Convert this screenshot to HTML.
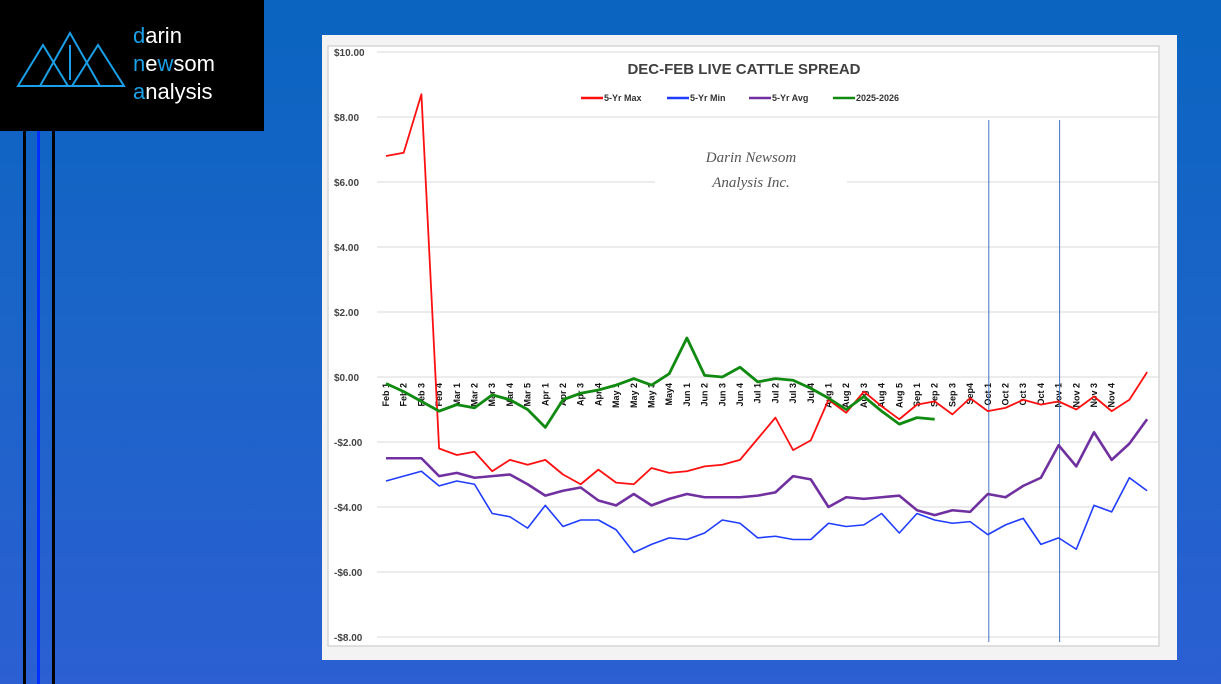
<!DOCTYPE html>
<html><head><meta charset="utf-8"><style>
body{margin:0;width:1221px;height:684px;overflow:hidden;background:linear-gradient(180deg,#0a64c0 0%,#1c64c8 50%,#2b5fd2 100%);position:relative;font-family:"Liberation Sans",sans-serif}
.abs{position:absolute}
</style></head><body>
<div class="abs" style="left:0;top:0;width:264px;height:131px;background:#000">
<svg width="264" height="131">
<g fill="none" stroke="#1aa0e8" stroke-width="2">
<polygon points="18,86 43,45 68,86"/><polygon points="40,86 70,33 100,86"/><polygon points="72,86 98,45 124,86"/>
<line x1="70" y1="45" x2="70" y2="80"/></g>
<text x="133" y="43" font-size="22" fill="#fff" font-family="Liberation Sans,sans-serif"><tspan fill="#1aa0e8">d</tspan>arin</text>
<text x="133" y="71" font-size="22" fill="#fff" font-family="Liberation Sans,sans-serif"><tspan fill="#1aa0e8">n</tspan>e<tspan fill="#1aa0e8">w</tspan>som</text>
<text x="133" y="99" font-size="22" fill="#fff" font-family="Liberation Sans,sans-serif"><tspan fill="#1aa0e8">a</tspan>nalysis</text>
</svg></div>
<div class="abs" style="left:23px;top:131px;width:3px;height:553px;background:#000"></div>
<div class="abs" style="left:37px;top:131px;width:3px;height:553px;background:#0030ff"></div>
<div class="abs" style="left:52px;top:131px;width:3px;height:553px;background:#000"></div>
<div class="abs" style="left:322px;top:35px;width:855px;height:625px;background:#f3f3f3"></div>
<svg class="abs" style="left:0;top:0" width="1221" height="684" id="chart">
<rect x="328" y="46" width="831" height="600" fill="#fff" stroke="#d6d6d6" stroke-width="1.5"/>
<g id="grid"></g>
<rect x="655" y="140" width="192" height="60" fill="#fff"/>
<text x="751" y="162" text-anchor="middle" font-family="Liberation Serif,serif" font-style="italic" font-size="15" fill="#555">Darin Newsom</text>
<text x="751" y="187" text-anchor="middle" font-family="Liberation Serif,serif" font-style="italic" font-size="15" fill="#555">Analysis Inc.</text>
<text x="744" y="74" text-anchor="middle" font-size="15" font-weight="bold" fill="#404040">DEC-FEB LIVE CATTLE SPREAD</text>
<g id="legend" font-size="9" font-weight="bold" fill="#333"></g>
<g id="xlabels" font-size="9" font-weight="bold" fill="#111"></g>
<g id="series"></g>
</svg>
<script>
const cats=["Feb 1","Feb 2","Feb 3","Feb 4","Mar 1","Mar 2","Mar 3","Mar 4","Mar 5","Apr 1","Apr 2","Apr 3","Apr 4","May 1","May 2","May 3","May4","Jun 1","Jun 2","Jun 3","Jun 4","Jul 1","Jul 2","Jul 3","Jul 4","Aug 1","Aug 2","Aug 3","Aug 4","Aug 5","Sep 1","Sep 2","Sep 3","Sep4","Oct 1","Oct 2","Oct 3","Oct 4","Nov 1","Nov 2","Nov 3","Nov 4","",""];
const yTicks=[10,8,6,4,2,0,-2,-4,-6,-8];
const maxVals=[6.8,6.9,8.7,-2.2,-2.4,-2.3,-2.9,-2.55,-2.7,-2.55,-3.0,-3.3,-2.85,-3.25,-3.3,-2.8,-2.95,-2.9,-2.75,-2.7,-2.55,-1.9,-1.25,-2.25,-1.95,-0.7,-1.1,-0.45,-0.9,-1.3,-0.85,-0.75,-1.15,-0.65,-1.05,-0.95,-0.7,-0.85,-0.75,-1.0,-0.6,-1.05,-0.7,0.15];
const minVals=[-3.2,-3.05,-2.9,-3.35,-3.2,-3.3,-4.2,-4.3,-4.65,-3.95,-4.6,-4.4,-4.4,-4.7,-5.4,-5.15,-4.95,-5.0,-4.8,-4.4,-4.5,-4.95,-4.9,-5.0,-5.0,-4.5,-4.6,-4.55,-4.2,-4.8,-4.2,-4.4,-4.5,-4.45,-4.85,-4.55,-4.35,-5.15,-4.95,-5.3,-3.95,-4.15,-3.1,-3.5];
const avgVals=[-2.5,-2.5,-2.5,-3.05,-2.95,-3.1,-3.05,-3.0,-3.3,-3.65,-3.5,-3.4,-3.8,-3.95,-3.6,-3.95,-3.75,-3.6,-3.7,-3.7,-3.7,-3.65,-3.55,-3.05,-3.15,-4.0,-3.7,-3.75,-3.7,-3.65,-4.1,-4.25,-4.1,-4.15,-3.6,-3.7,-3.35,-3.1,-2.1,-2.75,-1.7,-2.55,-2.05,-1.3];
const curVals=[-0.2,-0.45,-0.75,-1.05,-0.85,-0.95,-0.55,-0.7,-1.0,-1.55,-0.7,-0.5,-0.4,-0.25,-0.05,-0.25,0.1,1.2,0.05,0,0.3,-0.15,-0.05,-0.1,-0.35,-0.65,-1.0,-0.6,-1.05,-1.45,-1.25,-1.3];
const markerIdx=[34,38];
const NS="http://www.w3.org/2000/svg";
const X=i=>386+i*17.7;
const Y=v=>377-v*32.5;
const grid=document.getElementById('grid');
yTicks.forEach(v=>{
 const l=document.createElementNS(NS,'line');
 l.setAttribute('x1',377);l.setAttribute('x2',1159);l.setAttribute('y1',Y(v));l.setAttribute('y2',Y(v));
 l.setAttribute('stroke','#d9d9d9');l.setAttribute('stroke-width','1');
 
 
 grid.appendChild(l);
 const t=document.createElementNS(NS,'text');
 t.setAttribute('x',334);t.setAttribute('y',Y(v)+4);t.setAttribute('font-size','10');t.setAttribute('font-weight','bold');t.setAttribute('fill','#444');
 t.textContent=(v<0?'-$':'$')+Math.abs(v).toFixed(2);
 
 
 grid.appendChild(t);
});
const ser=document.getElementById('series');
markerIdx.forEach(i=>{
 const l=document.createElementNS(NS,'line');
 l.setAttribute('x1',X(i)+1);l.setAttribute('x2',X(i)+1);l.setAttribute('y1',120);l.setAttribute('y2',642);
 l.setAttribute('stroke','#4472c4');l.setAttribute('stroke-width','1');
 
 
 ser.appendChild(l);
});
const xl=document.getElementById('xlabels');
cats.forEach((c,i)=>{
 if(!c)return;
 const t=document.createElementNS(NS,'text');
 t.setAttribute('transform',`translate(${X(i)+3},383) rotate(-90)`);
 t.setAttribute('text-anchor','end');
 t.textContent=c;
 
 
 xl.appendChild(t);
});
function line(vals,color,w,name){
 const p=document.createElementNS(NS,'polyline');
 p.setAttribute('points',vals.map((v,i)=>X(i)+','+Y(v)).join(' '));
 p.setAttribute('fill','none');p.setAttribute('stroke',color);p.setAttribute('stroke-width',w);p.setAttribute('stroke-linejoin','round');
 
 
 ser.appendChild(p);
}
line(minVals,'#1f3cff',1.6,'series-5yr-min');
line(avgVals,'#7030a0',2.6,'series-5yr-avg');
line(maxVals,'#ff1010',1.8,'series-5yr-max');
line(curVals,'#108a10',2.8,'series-2025-2026');
const lg=document.getElementById('legend');
[['5-Yr Max','#ff1010',581],['5-Yr Min','#1f3cff',667],['5-Yr Avg','#7030a0',749],['2025-2026','#108a10',833]].forEach(([n,c,x])=>{
 const g=document.createElementNS(NS,'g');
 
 
 const l=document.createElementNS(NS,'line');
 l.setAttribute('x1',x);l.setAttribute('x2',x+22);l.setAttribute('y1',98);l.setAttribute('y2',98);l.setAttribute('stroke',c);l.setAttribute('stroke-width','2.5');
 const t=document.createElementNS(NS,'text');
 t.setAttribute('x',x+23);t.setAttribute('y',101);t.textContent=n;
 g.appendChild(l);g.appendChild(t);lg.appendChild(g);
});
</script>
</body></html>
